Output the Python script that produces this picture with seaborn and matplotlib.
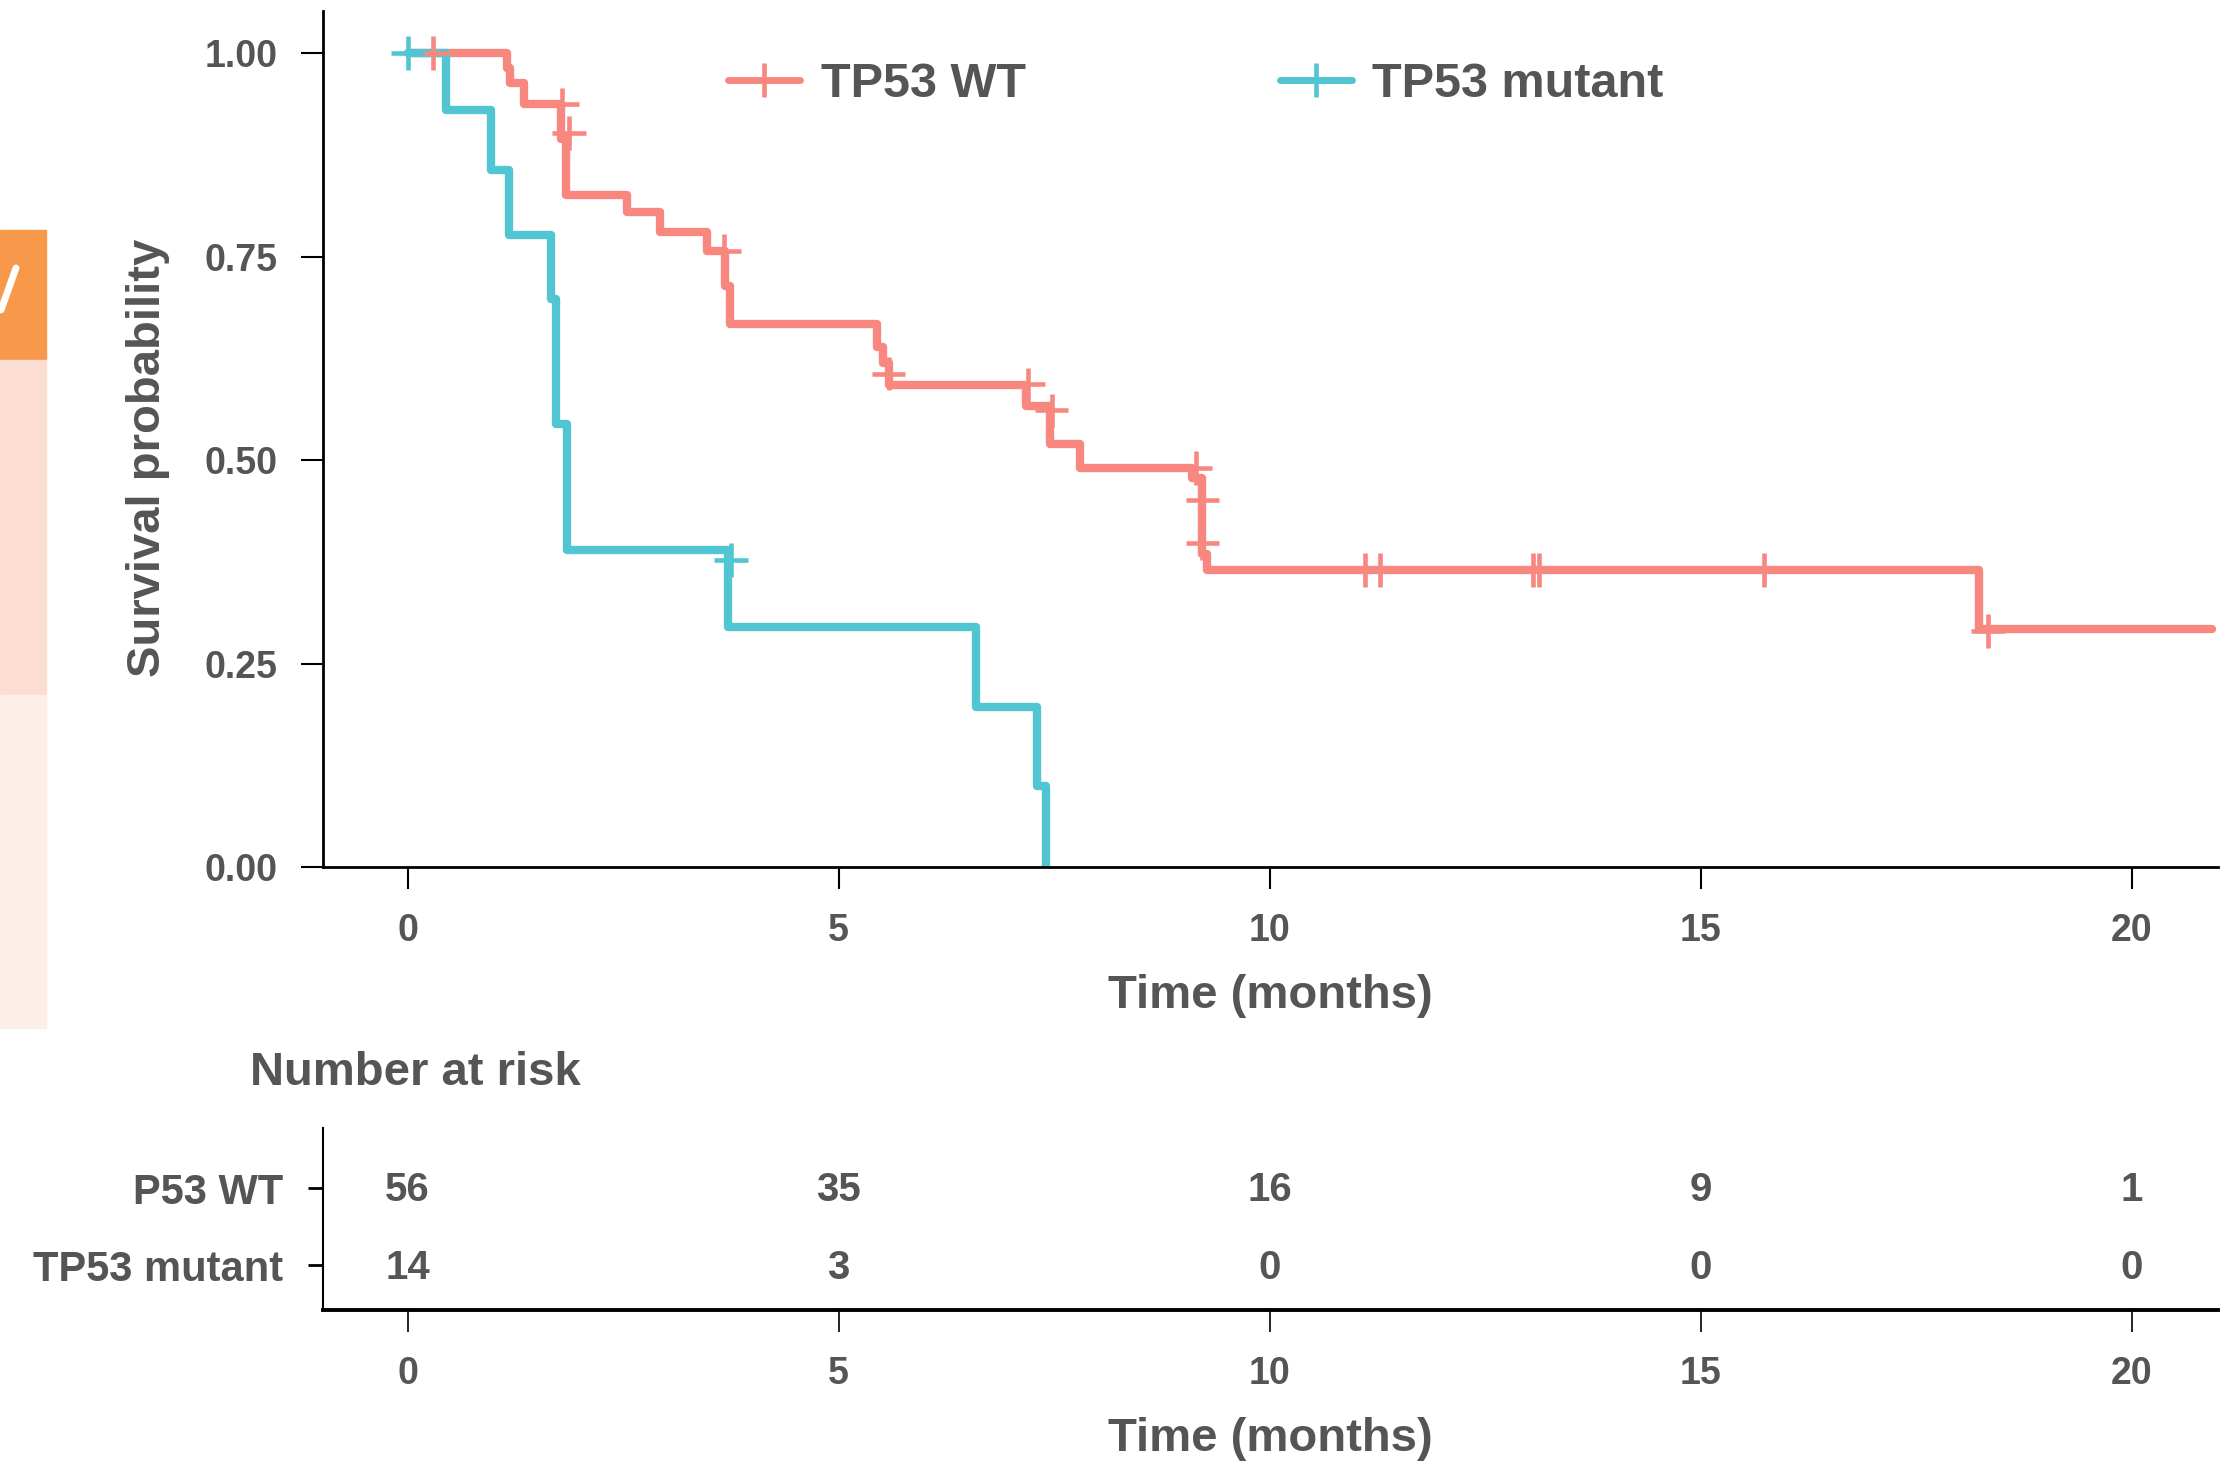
import numpy as np
import pandas as pd
import matplotlib
matplotlib.use("Agg")
import matplotlib.pyplot as plt
from matplotlib.lines import Line2D
from matplotlib.patches import Rectangle
import seaborn as sns

# =====================================
# DATA
# =====================================

groups = ["TP53 WT", "TP53 mutant"]
colors = ["#F7877F", "#52C5D3"]

# step times (months) and survival after each step
wt_time = [0, 1.15, 1.19, 1.35, 1.78, 1.84, 2.55, 2.93, 3.47, 3.68, 3.74,
           5.45, 5.52, 5.58, 7.17, 7.45, 7.80, 9.10, 9.21, 9.27, 18.23, 20.93]
wt_surv = [1.0, 0.982, 0.963, 0.937, 0.895, 0.826, 0.805, 0.780, 0.757, 0.714, 0.667,
           0.639, 0.619, 0.592, 0.566, 0.520, 0.490, 0.478, 0.385, 0.365, 0.292, 0.292]

mut_time = [0, 0.44, 0.97, 1.18, 1.66, 1.72, 1.85, 3.72, 6.59, 7.30, 7.41]
mut_surv = [1.0, 0.930, 0.856, 0.776, 0.698, 0.544, 0.389, 0.295, 0.196, 0.100, 0.0]

# censored observations
wt_cens_time = [0.29, 1.79, 1.87, 3.67, 5.58, 7.20, 7.47, 9.14, 9.22, 9.22,
                11.11, 11.28, 13.06, 13.13, 15.73, 18.33]
wt_cens_surv = [1.0, 0.937, 0.902, 0.757, 0.606, 0.593, 0.561, 0.490, 0.451, 0.398,
                0.365, 0.365, 0.365, 0.365, 0.365, 0.290]

mut_cens_time = [0.0, 3.75]
mut_cens_surv = [1.0, 0.377]

# number at risk table
risk_times = [0, 5, 10, 15, 20]
risk_labels = ["P53 WT", "TP53 mutant"]
risk_wt = [56, 35, 16, 9, 1]
risk_mut = [14, 3, 0, 0, 0]

curves = pd.concat([
    pd.DataFrame({"time": wt_time, "surv": wt_surv, "group": groups[0]}),
    pd.DataFrame({"time": mut_time, "surv": mut_surv, "group": groups[1]}),
])
censors = pd.concat([
    pd.DataFrame({"time": wt_cens_time, "surv": wt_cens_surv, "group": groups[0]}),
    pd.DataFrame({"time": mut_cens_time, "surv": mut_cens_surv, "group": groups[1]}),
])
palette = dict(zip(groups, colors))

# =====================================
# STYLE
# =====================================

sns.set_style("ticks")
plt.rcParams["font.family"] = ["Liberation Sans", "DejaVu Sans"]
plt.rcParams["font.weight"] = "bold"
text_grey = "#555555"

fig = plt.figure(figsize=(22.39, 14.63), dpi=100)

# leftover strip of a neighbouring panel at the left edge
fig.patches.append(Rectangle((0, 0.7539), 0.02055, 0.0889, transform=fig.transFigure,
                             color="#F7984A", zorder=0))
fig.patches.append(Rectangle((0, 0.5250), 0.02055, 0.2290, transform=fig.transFigure,
                             color="#FBDED1", zorder=0))
fig.patches.append(Rectangle((0, 0.2973), 0.02055, 0.2277, transform=fig.transFigure,
                             color="#FCEEE9", zorder=0))
fig.lines.append(Line2D([16 / 2239, 1 / 2239], [1 - 268 / 1463, 1 - 310 / 1463],
                        transform=fig.transFigure, color="white", lw=5))

# =====================================
# KM CURVES
# =====================================

ax = fig.add_axes([0.1443, 0.4074, 0.8463, 0.585])

sns.lineplot(
    data=curves, x="time", y="surv", hue="group", palette=palette,
    estimator=None, drawstyle="steps-post", linewidth=6, legend=False, ax=ax
)

sns.scatterplot(
    data=censors, x="time", y="surv", hue="group", palette=palette,
    marker="+", s=580, linewidth=3.3, legend=False, ax=ax, zorder=3
)

ax.set_xlim(-0.98, 21.0)
ax.set_ylim(0, 1.0516)
ax.set_xticks([0, 5, 10, 15, 20])
ax.set_yticks([0, 0.25, 0.5, 0.75, 1.0])
ax.set_yticklabels(["0.00", "0.25", "0.50", "0.75", "1.00"])
ax.set_xlabel("Time (months)", fontsize=34, fontweight="bold", color=text_grey, labelpad=18)
ax.set_ylabel("Survival probability", fontsize=34, fontweight="bold", color=text_grey)
ax.yaxis.set_label_coords(-0.081, 0.478)

for side in ["top", "right"]:
    ax.spines[side].set_visible(False)
for side in ["left", "bottom"]:
    ax.spines[side].set_linewidth(2)
    ax.spines[side].set_color("black")

ax.tick_params(axis="both", length=15.8, width=1.5, color="black",
               labelsize=27, labelcolor=text_grey, pad=17)

handles = [
    Line2D([], [], color=c, lw=5, marker="+", markersize=24, markeredgewidth=3.3)
    for c in colors
]
ax.legend(
    handles, groups, loc="center left", bbox_to_anchor=(0.2137, 0.914),
    ncol=2, frameon=False, borderpad=0, borderaxespad=0,
    handlelength=1.48, handletextpad=0.43, columnspacing=5.22,
    prop={"weight": "bold", "size": 35}, labelcolor=text_grey
)

# =====================================
# RISK TABLE
# =====================================

rax = fig.add_axes([0.1443, 0.1046, 0.8463, 0.1244])
rax.set_xlim(-0.98, 21.0)
rax.set_ylim(0.42, 2.78)

for t, n in zip(risk_times, risk_wt):
    rax.text(t, 1.97, str(n), ha="center", va="center", fontsize=29,
             fontweight="bold", color=text_grey)
for t, n in zip(risk_times, risk_mut):
    rax.text(t, 0.97, str(n), ha="center", va="center", fontsize=29,
             fontweight="bold", color=text_grey)

rax.set_xticks(risk_times)
rax.set_yticks([2, 1])
rax.set_yticklabels(risk_labels)
rax.set_xlabel("Time (months)", fontsize=34, fontweight="bold", color=text_grey, labelpad=18)

for side in ["top", "right"]:
    rax.spines[side].set_visible(False)
rax.spines["left"].set_linewidth(1.5)
rax.spines["bottom"].set_linewidth(2.8)
rax.spines["left"].set_color("black")
rax.spines["bottom"].set_color("black")

rax.tick_params(axis="x", length=15.8, width=1.2, color="black",
                labelsize=27, labelcolor=text_grey, pad=17)
rax.tick_params(axis="y", length=11, width=2, color="black",
                labelsize=30, labelcolor=text_grey, pad=18)

fig.text(0.1117, 0.2666, "Number at risk", ha="left", va="center",
         fontsize=34, fontweight="bold", color=text_grey)

fig.savefig("out.png", dpi=100)
